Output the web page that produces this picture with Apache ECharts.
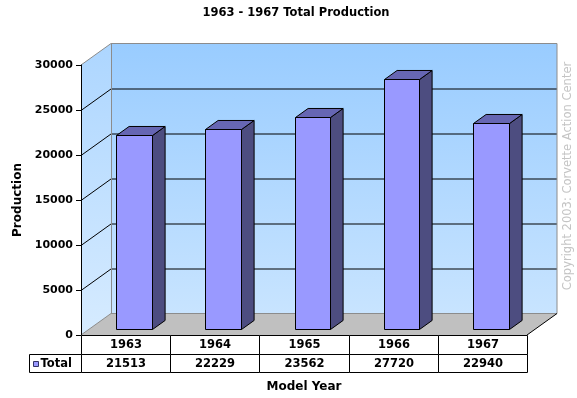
<!DOCTYPE html>
<html>
<head>
<meta charset="utf-8">
<script src="https://cdn.jsdelivr.net/npm/echarts@6/dist/echarts.min.js"></script>
<style>
html,body{margin:0;padding:0;background:#fff;}
#chart{width:577px;height:398px;}
</style>
</head>
<body>
<div id="chart"></div>
<script>
// ---- data ----
const years = ['1963', '1964', '1965', '1966', '1967'];
const production = [21513, 22229, 23562, 27720, 22940];
const seriesName = 'Total';
const yTicks = [0, 5000, 10000, 15000, 20000, 25000, 30000];
const titleText = '1963 - 1967 Total Production';
const yAxisTitle = 'Production';
const xAxisTitle = 'Model Year';
const copyrightText = 'Copyright 2003: Corvette Action Center';

// ---- style constants ----
const FONT = 'DejaVu Sans';
const DEPTH = [30, -21.5];      // 3D depth vector (px)
const BAR_OFF = 0.28;           // bar front position as fraction of depth
const BAR_DEPTH = 0.42;         // bar depth as fraction of depth
const BAR_W = 0.4;              // bar width as fraction of band
const ROW_H = 18.5;
const HEADER_W = 52;

const chart = echarts.init(document.getElementById('chart'), null, {renderer: 'canvas'});

function renderWalls(params, api) {
  const cs = params.coordSys;
  const x0 = cs.x, x1 = cs.x + cs.width, yT = cs.y, yB = cs.y + cs.height;
  const dx = DEPTH[0], dy = DEPTH[1];
  const ch = [];
  ch.push({type: 'rect', shape: {x: x0 + dx, y: yT + dy, width: cs.width, height: cs.height},
    style: {fill: {type: 'linear', x: 0, y: 0, x2: 0, y2: 1,
      colorStops: [{offset: 0, color: '#99CCFF'}, {offset: 1, color: '#C8E4FF'}]}, stroke: null}});
  ch.push({type: 'polygon', shape: {points: [[x0, yT], [x0 + dx, yT + dy], [x0 + dx, yB + dy], [x0, yB]]},
    style: {fill: {type: 'linear', x: 0, y: 0, x2: 0, y2: 1,
      colorStops: [{offset: 0, color: '#ADD6FF'}, {offset: 1, color: '#D6EBFF'}]}, stroke: null}});
  ch.push({type: 'polygon', shape: {points: [[x0, yB], [x0 + dx, yB + dy], [x1 + dx, yB + dy], [x1, yB]]},
    style: {fill: '#C0C0C0', stroke: null}});
  // gridlines
  yTicks.forEach(function (v) {
    if (v === 0 || v === yTicks[yTicks.length - 1]) return;
    const y = Math.round(api.coord([0, v])[1]) + 0.5;
    ch.push({type: 'line', shape: {x1: x0, y1: y, x2: x0 + dx, y2: y + dy}, style: {stroke: '#000', lineWidth: 1}});
    ch.push({type: 'line', shape: {x1: x0 + dx, y1: y + dy, x2: x1 + dx, y2: y + dy}, style: {stroke: '#000', lineWidth: 1}});
  });
  // borders
  const g = '#8C8C8C';
  ch.push({type: 'polyline', shape: {points: [[x0, yT], [x0 + dx, yT + dy], [x1 + dx, yT + dy], [x1 + dx, yB + dy]]},
    style: {stroke: g, lineWidth: 1, fill: null}});
  ch.push({type: 'line', shape: {x1: x0 + dx + 0.5, y1: yT + dy, x2: x0 + dx + 0.5, y2: yB + dy}, style: {stroke: g, lineWidth: 1}});
  ch.push({type: 'line', shape: {x1: x0 + dx, y1: yB + dy, x2: x1 + dx, y2: yB + dy}, style: {stroke: g, lineWidth: 1}});
  ch.push({type: 'line', shape: {x1: x0, y1: yB, x2: x0 + dx, y2: yB + dy}, style: {stroke: g, lineWidth: 1}});
  ch.push({type: 'line', shape: {x1: x1, y1: yB, x2: x1 + dx, y2: yB + dy}, style: {stroke: '#000', lineWidth: 1}});
  return {type: 'group', children: ch};
}

function renderBar(params, api) {
  const i = api.value(0), v = api.value(1);
  const p0 = api.coord([i, 0]);
  const p1 = api.coord([i, v]);
  const band = api.size([1, 0])[0];
  const bw = band * BAR_W;
  const ox = DEPTH[0] * BAR_OFF, oy = DEPTH[1] * BAR_OFF;
  const ddx = DEPTH[0] * BAR_DEPTH, ddy = DEPTH[1] * BAR_DEPTH;
  const L = Math.round(p0[0] - bw / 2 + ox) + 0.5;
  const R = Math.round(p0[0] + bw / 2 + ox) + 0.5;
  const T = Math.round(p1[1] + oy) + 0.5;
  const B = Math.round(p0[1] + oy) + 0.5;
  const st = {stroke: '#000', lineWidth: 1, lineJoin: 'miter'};
  return {type: 'group', children: [
    {type: 'polygon', shape: {points: [[R, T], [R + ddx, T + ddy], [R + ddx, B + ddy], [R, B]]},
      style: Object.assign({fill: '#4D4D80'}, st)},
    {type: 'polygon', shape: {points: [[L, T], [L + ddx, T + ddy], [R + ddx, T + ddy], [R, T]]},
      style: Object.assign({fill: '#6666B3'}, st)},
    {type: 'rect', shape: {x: L, y: T, width: R - L, height: B - T},
      style: Object.assign({fill: '#9999FF'}, st)}
  ]};
}

function renderTable(params, api) {
  const i = api.value(0), v = api.value(1);
  const p0 = api.coord([i, 0]);
  const band = api.size([1, 0])[0];
  const xL = Math.round(p0[0] - band / 2) + 0.5;
  const xR = Math.round(p0[0] + band / 2) + 0.5;
  const y0 = Math.round(p0[1]) + 0.5;
  const y1 = Math.round(p0[1] + ROW_H) + 0.5;
  const y2 = Math.round(p0[1] + 2 * ROW_H) + 0.5;
  const st = {stroke: '#000', lineWidth: 1, fill: '#fff'};
  const tx = {fill: '#000', font: 'bold 11.5px "' + FONT + '"', align: 'center', verticalAlign: 'middle'};
  const ch = [
    {type: 'rect', shape: {x: xL, y: y0, width: xR - xL, height: y1 - y0}, style: st},
    {type: 'rect', shape: {x: xL, y: y1, width: xR - xL, height: y2 - y1}, style: st},
    {type: 'text', style: Object.assign({x: (xL + xR) / 2, y: (y0 + y1) / 2 + 0.5, text: years[i]}, tx)},
    {type: 'text', style: Object.assign({x: (xL + xR) / 2, y: (y1 + y2) / 2 + 0.5, text: String(v)}, tx)}
  ];
  if (params.dataIndex === 0) {
    const hx = xL - HEADER_W;
    ch.push({type: 'rect', shape: {x: hx, y: y1, width: HEADER_W, height: y2 - y1}, style: st});
    ch.push({type: 'rect', shape: {x: hx + 4, y: y1 + 7, width: 5, height: 5},
      style: {fill: '#9999FF', stroke: '#333366', lineWidth: 1}});
    ch.push({type: 'text', style: {x: hx + 11, y: (y1 + y2) / 2 + 0.5, text: seriesName, fill: '#000',
      font: 'bold 11.5px "' + FONT + '"', align: 'left', verticalAlign: 'middle'}});
  }
  return {type: 'group', children: ch};
}

const barData = production.map(function (v, i) { return [i, v]; });

chart.setOption({
  animation: false,
  backgroundColor: '#fff',
  title: {
    text: titleText, left: 291, top: 2, textAlign: 'center',
    textStyle: {fontFamily: FONT, fontWeight: 'bold', fontSize: 11.5, color: '#000'}
  },
  grid: {left: 81, top: 65, width: 446, height: 272, containLabel: false},
  xAxis: {
    type: 'category', data: years,
    axisLine: {show: false}, axisTick: {show: false}, axisLabel: {show: false}, splitLine: {show: false},
    name: xAxisTitle, nameLocation: 'middle', nameGap: 46,
    nameTextStyle: {fontFamily: FONT, fontWeight: 'bold', fontSize: 12, color: '#000'}
  },
  yAxis: {
    type: 'value', min: yTicks[0], max: yTicks[yTicks.length - 1], interval: 5000,
    axisLine: {show: true, lineStyle: {color: '#000', width: 1}},
    axisTick: {show: true, length: 5, lineStyle: {color: '#000'}},
    axisLabel: {fontFamily: FONT, fontWeight: 'bold', fontSize: 11, color: '#000', margin: 8,
      formatter: function (v) { return String(v); }},
    splitLine: {show: false},
    name: yAxisTitle, nameLocation: 'middle', nameGap: 57, nameRotate: 90,
    nameTextStyle: {fontFamily: FONT, fontWeight: 'bold', fontSize: 12, color: '#000'}
  },
  graphic: [{
    type: 'text', x: 568, y: 176, rotation: Math.PI / 2,
    style: {text: copyrightText, fill: '#C4C4C4', font: '11.5px "' + FONT + '"', align: 'center', verticalAlign: 'middle'}
  }],
  series: [
    {type: 'custom', name: 'walls', z: 0, silent: true, clip: false, renderItem: renderWalls, data: [[0, 0]]},
    {type: 'custom', name: seriesName, z: 2, clip: false, renderItem: renderBar, data: barData},
    {type: 'custom', name: 'table', z: 3, clip: false, renderItem: renderTable, data: barData}
  ]
});
</script>
</body>
</html>
